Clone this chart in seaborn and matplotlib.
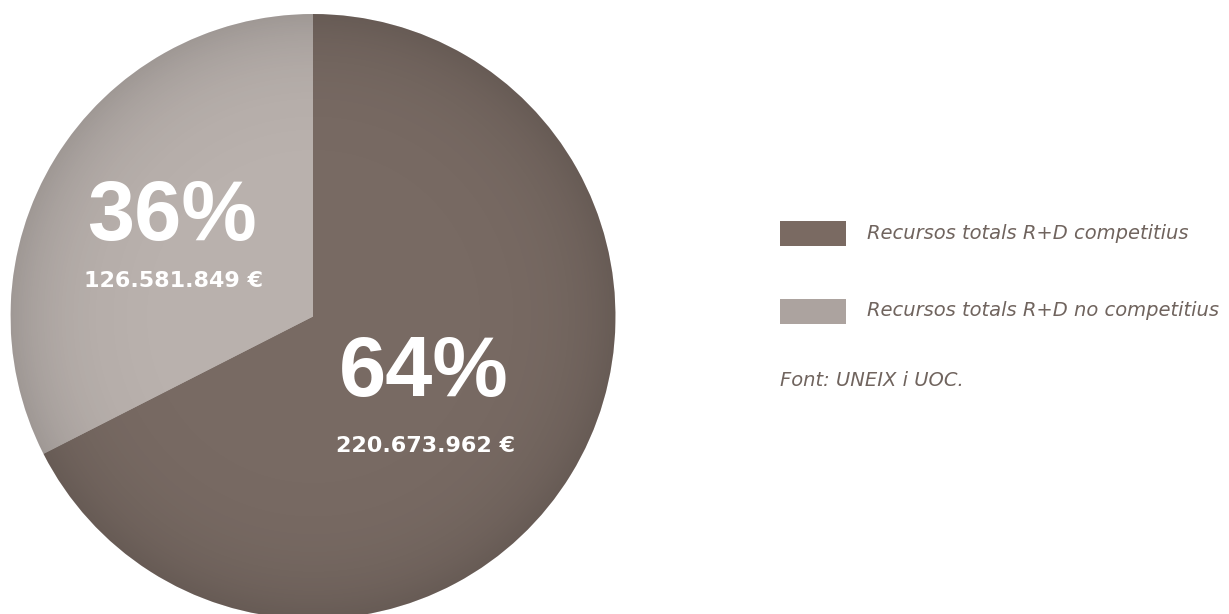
"""
Pie chart: R+D resources, competitive vs non-competitive (UNEIX i UOC)
"""

import numpy as np
import matplotlib
matplotlib.use('Agg')
import matplotlib.pyplot as plt
import seaborn as sns
from matplotlib.patches import Circle, Rectangle

sns.set_theme(style='white')
plt.rcParams['font.family'] = ['Liberation Sans', 'DejaVu Sans']

# Data (wedge shares as drawn in the picture, labels as printed)
categories = ['Recursos totals R+D no competitius', 'Recursos totals R+D competitius']
shares = [32.5, 67.5]
pct_labels = ['36%', '64%']
amount_labels = ['126.581.849 €', '220.673.962 €']
legend_order = [1, 0]
source_text = 'Font: UNEIX i UOC.'

pie_colors = ['#b9b1ad', '#786a63']
legend_colors = ['#aca39f', '#7a6a62']
text_color = '#70645e'

W, H = 1229, 614
fig = plt.figure(figsize=(W / 100, H / 100), dpi=100)


def px(x, y):
    return x / W, 1 - y / H


# pie axes: centre (313, 316.5), radius 302.5 px
cx, cy, r = 313, 316.5, 302.5
ax = fig.add_axes([(cx - r) / W, (H - cy - r) / H, 2 * r / W, 2 * r / H])
wedges, _ = ax.pie(shares, colors=pie_colors, startangle=90, counterclock=True,
                   radius=1, wedgeprops=dict(linewidth=0))
ax.set_xlim(-1, 1)
ax.set_ylim(-1, 1)
ax.axis('off')

# soft radial shading towards the rim
n = 600
g = np.linspace(-1, 1, n)
xx, yy = np.meshgrid(g, g)
rr = np.sqrt(xx ** 2 + yy ** 2)
shade = np.zeros((n, n, 4))
shade[..., 3] = 0.14 * np.clip(rr, 0, 1) ** 6
im = ax.imshow(shade, extent=(-1, 1, -1, 1), origin='lower', zorder=3, interpolation='bilinear')
im.set_clip_path(Circle((0, 0), 1, transform=ax.transData))

# labels on the wedges
fig.text(*px(172, 240), pct_labels[0], color='white', fontsize=61, fontweight='bold',
         ha='center', va='baseline')
fig.text(*px(174, 287), amount_labels[0], color='white', fontsize=16, fontweight='bold',
         ha='center', va='baseline', family='DejaVu Sans')
fig.text(*px(424, 396), pct_labels[1], color='white', fontsize=61, fontweight='bold',
         ha='center', va='baseline')
fig.text(*px(426, 452), amount_labels[1], color='white', fontsize=16, fontweight='bold',
         ha='center', va='baseline', family='DejaVu Sans')

# legend
for k, i in enumerate(legend_order):
    yc = 233.5 + k * 77.5
    x0, y0 = px(780, yc + 12.5)
    fig.patches.append(Rectangle((x0, y0), 66 / W, 25 / H, transform=fig.transFigure,
                                 facecolor=legend_colors[i], edgecolor='none'))
    fig.text(*px(867, yc), categories[i], color=text_color, fontsize=14, style='italic',
             ha='left', va='center', family='DejaVu Sans')

fig.text(*px(780, 380), source_text, color=text_color, fontsize=14, style='italic',
         ha='left', va='center', family='DejaVu Sans')

plt.savefig('out.png', dpi=100)
